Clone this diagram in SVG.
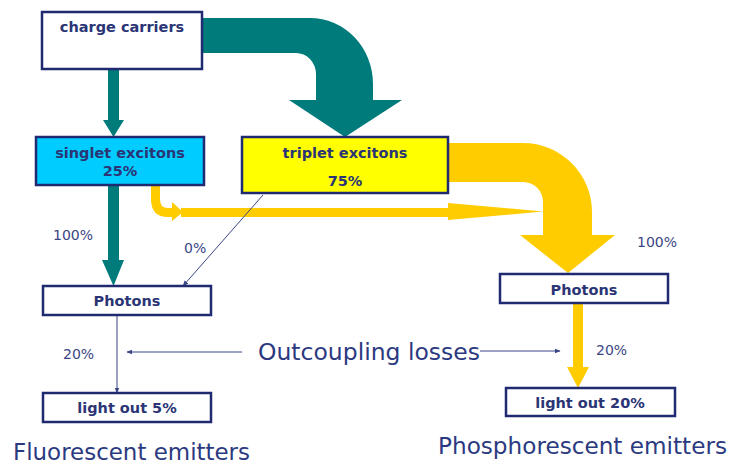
<svg xmlns="http://www.w3.org/2000/svg" width="730" height="464" viewBox="0 0 730 464">
<defs>
<style>
.box{stroke:#1f2a70;stroke-width:2.5}
.bt{font-family:"DejaVu Sans",Verdana,sans-serif;font-weight:bold;font-size:14.5px;fill:#2b3575;text-anchor:middle}
.pt{font-family:"DejaVu Sans",Verdana,sans-serif;font-size:14px;fill:#3a4585}
.big{font-family:"DejaVu Sans",Verdana,sans-serif;fill:#2b3a80}
.teal{fill:#007b7b}
.yel{fill:#ffcc00}
.thin{stroke:#3a4585;stroke-width:1;fill:none}
</style>
<marker id="ah" viewBox="0 0 10 10" refX="9" refY="5" markerWidth="6" markerHeight="6" orient="auto" markerUnits="userSpaceOnUse">
<path d="M0,1 L10,5 L0,9 Z" fill="#3a4585"/>
</marker>
</defs>
<rect width="730" height="464" fill="#ffffff"/>
<g id="connectors">
<path class="teal" d="M202,18 L310,18 A63,66 0 0 1 373,84 L373,100 L402,100 L345,137 L289,100 L316,100 L316,74 A20,21 0 0 0 296,53 L202,53 Z"/>
<path class="teal" d="M108,69 L119,69 L119,120 L124,120 L113.5,137 L103,120 L108,120 Z"/>
<path class="teal" d="M108,185 L119,185 L119,260 L124,260 L113.5,286 L102,260 L108,260 Z"/>
<path class="yel" d="M448,143 L523,143 A69,69 0 0 1 592,212 L592,235 L615,235 L568,273 L520,235 L543,235 L543,202 A20,20 0 0 0 523,182 L448,182 Z"/>
<path class="yel" d="M151,185 L160,185 L160,199 Q160,208 168,208 L172,208 L172,202 L183,212 L172,221 L172,217 L168,217 Q151,217 151,199 Z"/>
<path class="yel" d="M181,208 L448,208 L448,203 L543,211.5 L448,220 L448,217 L181,217 Z"/>
<path class="yel" d="M573,303 L583,303 L583,367 L589,367 L578,388 L567,367 L573,367 Z"/>
<line class="thin" x1="263" y1="195" x2="183" y2="286" marker-end="url(#ah)"/>
<line class="thin" x1="117" y1="315" x2="117" y2="393" stroke="#6a78a8" marker-end="url(#ah)"/>
<line class="thin" x1="242" y1="352" x2="127" y2="352" marker-end="url(#ah)"/>
<line class="thin" x1="480" y1="351" x2="560" y2="351" marker-end="url(#ah)"/>
</g>
<g id="charge-carriers">
<rect class="box" x="42" y="12" width="160" height="57" fill="#ffffff"/>
<text class="bt" x="122" y="32">charge carriers</text>
</g>
<g id="singlet-excitons">
<rect class="box" x="36" y="137" width="168" height="48" fill="#00ccff"/>
<text class="bt" x="120" y="158">singlet excitons</text>
<text class="bt" x="120" y="176">25%</text>
</g>
<g id="triplet-excitons">
<rect class="box" x="242" y="137" width="206" height="56" fill="#ffff00"/>
<text class="bt" x="345" y="158">triplet excitons</text>
<text class="bt" x="345" y="186">75%</text>
</g>
<g id="photons-left">
<rect class="box" x="43" y="286" width="168" height="29" fill="#ffffff"/>
<text class="bt" x="127" y="306">Photons</text>
</g>
<g id="light-out-5">
<rect class="box" x="43" y="393" width="168" height="29" fill="#ffffff"/>
<text class="bt" x="127" y="413">light out 5%</text>
</g>
<g id="photons-right">
<rect class="box" x="500" y="274" width="168" height="29" fill="#ffffff"/>
<text class="bt" x="584" y="295">Photons</text>
</g>
<g id="light-out-20">
<rect class="box" x="506" y="388" width="169" height="28" fill="#ffffff"/>
<text class="bt" x="590" y="408">light out 20%</text>
</g>
<g id="labels">
<text class="pt" x="53" y="240">100%</text>
<text class="pt" x="184" y="253">0%</text>
<text class="pt" x="63" y="359">20%</text>
<text class="pt" x="637" y="247">100%</text>
<text class="pt" x="596" y="355">20%</text>
<text class="big" x="258" y="360" font-size="23.5" textLength="222" lengthAdjust="spacingAndGlyphs">Outcoupling losses</text>
<text class="big" x="13" y="460" font-size="23" textLength="237" lengthAdjust="spacingAndGlyphs">Fluorescent emitters</text>
<text class="big" x="438" y="454" font-size="23" textLength="289" lengthAdjust="spacingAndGlyphs">Phosphorescent emitters</text>
</g>
</svg>
